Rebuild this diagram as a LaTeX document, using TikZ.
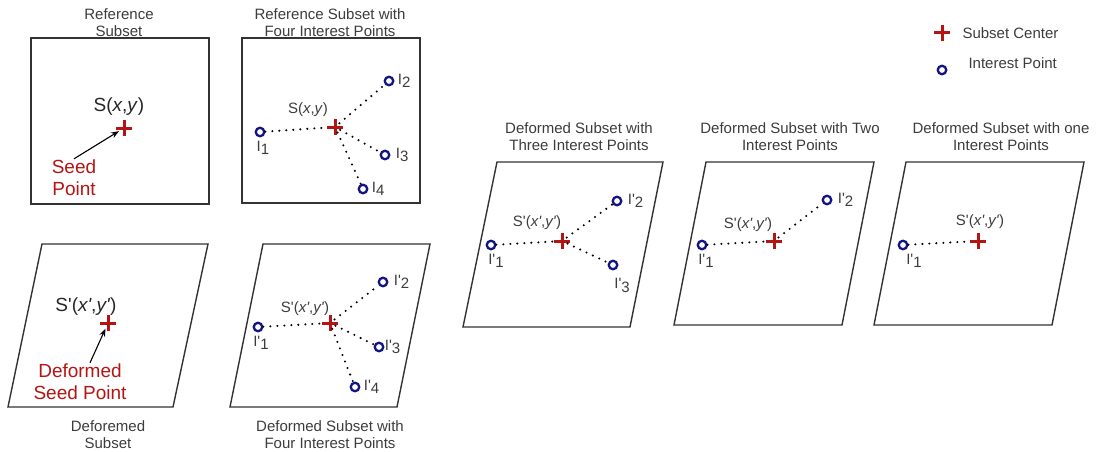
\documentclass[tikz,border=0pt]{standalone}
\usepackage{fontspec}
\setmainfont{Liberation Sans}
\usepackage{tikz}
\usetikzlibrary{shapes, arrows.meta, positioning, calc}
\definecolor{seedred}{RGB}{180,20,20}
\definecolor{ipblue}{RGB}{20,20,130}
\definecolor{txtgray}{RGB}{60,60,60}
\newcommand{\ipsub}[1]{\raisebox{-3.5pt}{#1}}
\newcommand{\prm}{\textquotesingle}

\begin{document}
\begin{tikzpicture}[x=1pt, y=-1pt,
    subset/.style={draw=black!80, line width=1.4pt},
    sc/.style={cross out, rotate=45, draw=seedred, line width=3pt, minimum size=8.5pt, inner sep=0pt},
    ip/.style={circle, draw=ipblue, line width=2.3pt, minimum size=8.5pt, inner sep=0pt},
    link/.style={line width=2.3pt, dash pattern=on 0pt off 7pt, line cap=round},
    arr/.style={-{Stealth[length=8pt, width=6pt]}, line width=1.1pt},
    lbl/.style={font=\fontsize{15}{17}\selectfont, text=txtgray},
    big/.style={font=\fontsize{19}{22}\selectfont, text=black!85},
    seedlbl/.style={align=center, font=\fontsize{19}{22}\selectfont, text=seedred, inner sep=1pt},
    ttl/.style={align=center, font=\fontsize{15}{17}\selectfont, text=txtgray}]
    \useasboundingbox (0,0) rectangle (1097,452);

    % Reference subset
    \draw[subset] (31,38) rectangle (209,204);
    \node[ttl] (t1) at (119,23) {Reference\\Subset};
    \node[sc] (c1) at (124,128) {};
    \node[big] (s1) at (119,107) {S(\textit{x},\textit{y})};
    \node[seedlbl] (seed1) at (74,178) {Seed\\Point};
    \draw[arr] (seed1.north) -- (c1);

    % Reference subset with four interest points
    \draw[subset] (242,38) rectangle (420,203);
    \node[ttl] (t2) at (330,23) {Reference Subset with\\Four Interest Points};
    \node[sc] (c2) at (335,127) {};
    \node[lbl] (s2) at (308,110) {S(\textit{x},\textit{y})};
    \node[ip] (p21) at (260,132) {};
    \node[ip] (p22) at (389,81) {};
    \node[ip] (p23) at (385,155) {};
    \node[ip] (p24) at (363,189) {};
    \draw[link] (p21) -- (c2);
    \draw[link] (c2) -- (p22);
    \draw[link] (c2) -- (p23);
    \draw[link] (c2) -- (p24);
    \node[lbl, below=0pt of p21, xshift=3pt] (l21) {I\ipsub{1}};
    \node[lbl, right=0pt of p22] (l22) {I\ipsub{2}};
    \node[lbl, right=2pt of p23] (l23) {I\ipsub{3}};
    \node[lbl, right=0pt of p24] (l24) {I\ipsub{4}};

    % Deformed subset
    \draw[subset] (42,244) -- (208,244) -- (173,407) -- (8,407) -- cycle;
    \node[ttl] (t3) at (108,435) {Deforemed\\Subset};
    \node[sc] (c3) at (108,323) {};
    \node[big] (s3) at (86,307) {S\prm(\textit{x\prm},\textit{y\prm})};
    \node[seedlbl] (dsp) at (80,382) {Deformed\\Seed Point};
    \draw[arr] ([xshift=10pt]dsp.north) -- (c3);

    % Deformed subset with four interest points
    \draw[subset] (263,244) -- (430,244) -- (397,407) -- (230,407) -- cycle;
    \node[ttl] (t4) at (330,435) {Deformed Subset with\\Four Interest Points};
    \node[sc] (c4) at (330,323) {};
    \node[lbl] (s4) at (305,309) {S\prm(\textit{x\prm},\textit{y\prm})};
    \node[ip] (p41) at (258,327) {};
    \node[ip] (p42) at (383,282) {};
    \node[ip] (p43) at (379,347) {};
    \node[ip] (p44) at (355,387) {};
    \draw[link] (p41) -- (c4);
    \draw[link] (c4) -- (p42);
    \draw[link] (c4) -- (p43);
    \draw[link] (c4) -- (p44);
    \node[lbl, below=0pt of p41, xshift=3pt] (l41) {I\prm\ipsub{1}};
    \node[lbl, right=2pt of p42] (l42) {I\prm\ipsub{2}};
    \node[lbl, right=-3pt of p43] (l43) {I\prm\ipsub{3}};
    \node[lbl, right=0pt of p44] (l44) {I\prm\ipsub{4}};

    % Deformed subset with three interest points
    \draw[subset] (497,162) -- (663,162) -- (630,327) -- (463,327) -- cycle;
    \node[ttl] (t5) at (579,137) {Deformed Subset with\\Three Interest Points};
    \node[sc] (c5) at (562,241) {};
    \node[lbl] (s5) at (537,223) {S\prm(\textit{x\prm},\textit{y\prm})};
    \node[ip] (p51) at (491,245) {};
    \node[ip] (p52) at (617,201) {};
    \node[ip] (p53) at (613,265) {};
    \draw[link] (p51) -- (c5);
    \draw[link] (c5) -- (p52);
    \draw[link] (c5) -- (p53);
    \node[lbl, below=0pt of p51, xshift=5pt] (l51) {I\prm\ipsub{1}};
    \node[lbl, right=2pt of p52] (l52) {I\prm\ipsub{2}};
    \node[lbl, below right=6pt and -6pt of p53] (l53) {I\prm\ipsub{3}};

    % Deformed subset with two interest points
    \draw[subset] (706,162) -- (874,162) -- (842,325) -- (674,325) -- cycle;
    \node[ttl] (t6) at (790,137) {Deformed Subset with Two\\Interest Points};
    \node[sc] (c6) at (774,241) {};
    \node[lbl] (s6) at (748,225) {S\prm(\textit{x\prm},\textit{y\prm})};
    \node[ip] (p61) at (702,245) {};
    \node[ip] (p62) at (827,200) {};
    \draw[link] (p61) -- (c6);
    \draw[link] (c6) -- (p62);
    \node[lbl, below=0pt of p61, xshift=4pt] (l61) {I\prm\ipsub{1}};
    \node[lbl, right=2pt of p62] (l62) {I\prm\ipsub{2}};

    % Deformed subset with one interest point
    \draw[subset] (906,162) -- (1084,162) -- (1052,325) -- (874,325) -- cycle;
    \node[ttl] (t7) at (1001,137) {Deformed Subset with one\\Interest Points};
    \node[sc] (c7) at (978,241) {};
    \node[lbl] (s7) at (980,222) {S\prm(\textit{x\prm},\textit{y\prm})};
    \node[ip] (p71) at (903,245) {};
    \draw[link] (p71) -- (c7);
    \node[lbl, below=0pt of p71, xshift=11pt] (l71) {I\prm\ipsub{1}};

    % Legend
    \node[sc] (lc) at (942,33) {};
    \node[lbl, anchor=west] (lct) at (959,33) {Subset Center};
    \node[ip] (lp) at (942,70) {};
    \node[lbl, anchor=west] (lpt) at (965,63) {Interest Point};
\end{tikzpicture}
\end{document}
